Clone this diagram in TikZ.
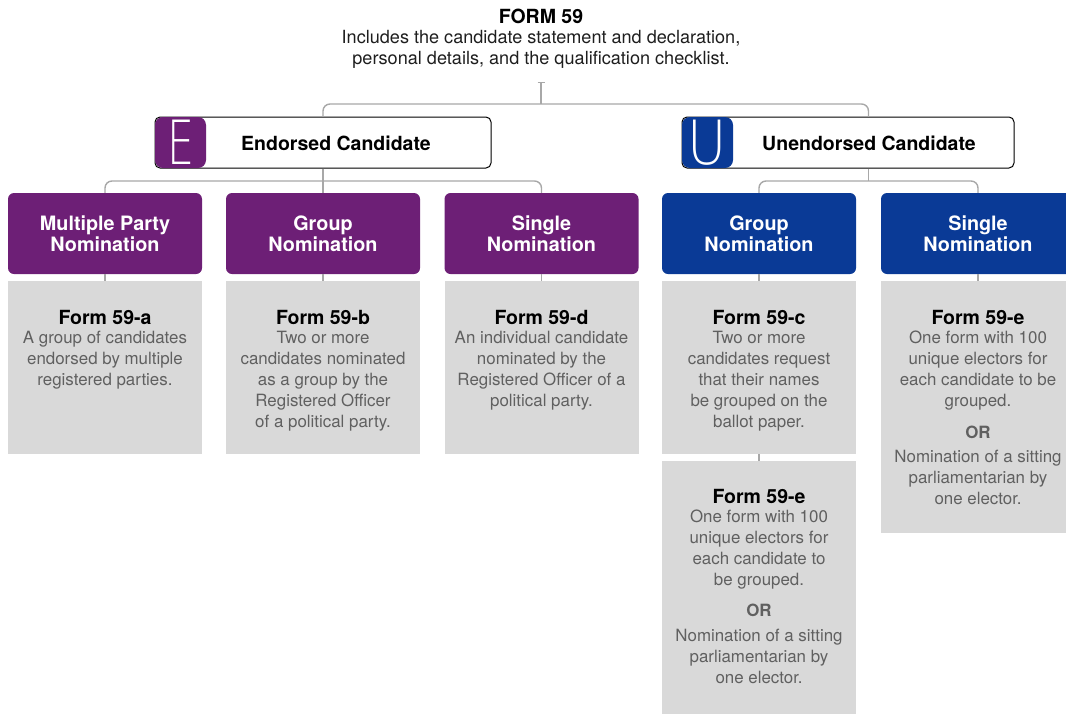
\documentclass[tikz,border=0pt]{standalone}
\usepackage{fontspec}
\setmainfont{TeX Gyre Heros}
\newfontfamily\thinfont{DejaVu Sans ExtraLight}
\usetikzlibrary{arrows.meta,calc}
\definecolor{purp}{HTML}{6D1F76}
\definecolor{ublue}{HTML}{0A3A96}
\definecolor{boxgray}{HTML}{D9D9D9}
\definecolor{linegray}{HTML}{A8A8A8}
\definecolor{bodytext}{HTML}{606060}
\definecolor{titletext}{HTML}{1E1E1E}
\begin{document}
\begin{tikzpicture}[x=1pt,y=-1pt,
 conn/.style={draw=linegray, line width=1.4pt},
 catbox/.style={draw=black, line width=1pt, fill=white, rounded corners=5pt, minimum height=51pt, inner sep=0},
 letterbox/.style={rounded corners=8pt, minimum width=51pt, minimum height=51pt, inner sep=0, text=white, font=\thinfont\fontsize{61}{61}\selectfont},
 cattext/.style={font=\fontsize{19.5}{21}\selectfont\bfseries, inner sep=0},
 nombox/.style={rounded corners=6pt, minimum width=194pt, minimum height=81pt, inner sep=0, text=white, align=center, font=\fontsize{19.8}{21}\selectfont\bfseries},
 formbox/.style={fill=boxgray, minimum width=194pt, inner sep=0},
 formtitle/.style={font=\fontsize{19.5}{21}\selectfont\bfseries, inner sep=0, anchor=north},
 formbody/.style={font=\fontsize{16.9}{21}\selectfont, text=bodytext, align=center, inner sep=0, anchor=north},
 ortext/.style={font=\fontsize{16.9}{21}\selectfont\bfseries, text=bodytext, inner sep=0},
]
\useasboundingbox (0,0) rectangle (1066,713);

% title
\node[font=\fontsize{19.5}{21}\selectfont\bfseries, inner sep=0] (title) at (541,16) {FORM 59};
\node[font=\fontsize{18.1}{21.5}\selectfont, text=titletext, align=center, inner sep=0, anchor=north] (subtitle) at (541,30) {Includes the candidate statement and declaration,\\personal details, and the qualification checklist.};
\coordinate (tick) at (541,82);
\coordinate (hub) at (541,104);

% category boxes
\node[catbox, minimum width=336pt] (endorsed) at (323,142.5) {};
\node[letterbox, fill=purp] (eletter) at (180.5,142.5) {\scalebox{0.7}[1]{E}};
\node[cattext] (etext) at (336,143) {Endorsed Candidate};

\node[catbox, minimum width=332pt] (unendorsed) at (848,142.5) {};
\node[letterbox, fill=ublue] (uletter) at (707.5,142.5) {\scalebox{0.88}[1]{U}};
\node[cattext] (utext) at (869,143) {Unendorsed Candidate};

% nomination boxes
\node[nombox, fill=purp] (mp) at (105,233.5) {Multiple Party\\Nomination};
\node[nombox, fill=purp] (eg) at (323,233.5) {Group\\Nomination};
\node[nombox, fill=purp] (es) at (541.5,233.5) {Single\\Nomination};
\node[nombox, fill=ublue] (ug) at (759,233.5) {Group\\Nomination};
\node[nombox, fill=ublue] (us) at (978,233.5) {Single\\Nomination};

\coordinate (ej) at (323,181);
\coordinate (uj) at (868.5,181);

% form boxes
\node[formbox, minimum height=173pt] (fa) at (105,367.5) {};
\node[formbox, minimum height=173pt] (fb) at (323,367.5) {};
\node[formbox, minimum height=173pt] (fd) at (541.5,367.5) {};
\node[formbox, minimum height=173pt] (fc) at (759,367.5) {};
\node[formbox, minimum height=252pt] (fe) at (978,407) {};
\node[formbox, minimum height=259pt] (fe2) at (759,590.5) {};

% connectors
\draw[conn, {Bar[width=7pt,length=1pt]}-] (tick) -- (hub);
\draw[conn, rounded corners=7pt] (endorsed.north) |- (hub) -| (unendorsed.north -| uj);
\draw[conn] (endorsed.south) -- (ej);
\draw[conn, rounded corners=7pt] (mp.north) |- (ej) -| (es.north);
\draw[conn] (eg.north) -- (ej);
\draw[conn] (unendorsed.south -| uj) -- (uj);
\draw[conn, rounded corners=7pt] (ug.north) |- (uj) -| (us.north);
\draw[conn] (mp.south) -- (fa.north);
\draw[conn] (eg.south) -- (fb.north);
\draw[conn] (es.south) -- (fd.north);
\draw[conn] (ug.south) -- (fc.north);
\draw[conn] (us.south) -- (fe.north);
\draw[conn] (fc.south) -- (fe2.north);

% form texts
\node[formtitle] (ta) at (105,310) {Form 59-a};
\node[formbody] (ba) at (105,331) {A group of candidates\\endorsed by multiple\\registered parties.};

\node[formtitle] (tb) at (323,310) {Form 59-b};
\node[formbody] (bb) at (323,331) {Two or more\\candidates nominated\\as a group by the\\Registered Officer\\of a political party.};

\node[formtitle] (td) at (541.5,310) {Form 59-d};
\node[formbody] (bd) at (541.5,331) {An individual candidate\\nominated by the\\Registered Officer of a\\political party.};

\node[formtitle] (tc) at (759,310) {Form 59-c};
\node[formbody] (bc) at (759,331) {Two or more\\candidates request\\that their names\\be grouped on the\\ballot paper.};

\node[formtitle] (te) at (978,310) {Form 59-e};
\node[formbody] (be) at (978,331) {One form with 100\\unique electors for\\each candidate to be\\grouped.};
\node[ortext] (ore) at (978,432) {OR};
\node[formbody] (be2) at (978,450) {Nomination of a sitting\\parliamentarian by\\one elector.};

\node[formtitle] (te2) at (759,489) {Form 59-e};
\node[formbody] (bf) at (759,510) {One form with 100\\unique electors for\\each candidate to\\be grouped.};
\node[ortext] (orf) at (759,610) {OR};
\node[formbody] (bf2) at (759,629) {Nomination of a sitting\\parliamentarian by\\one elector.};
\end{tikzpicture}
\end{document}
